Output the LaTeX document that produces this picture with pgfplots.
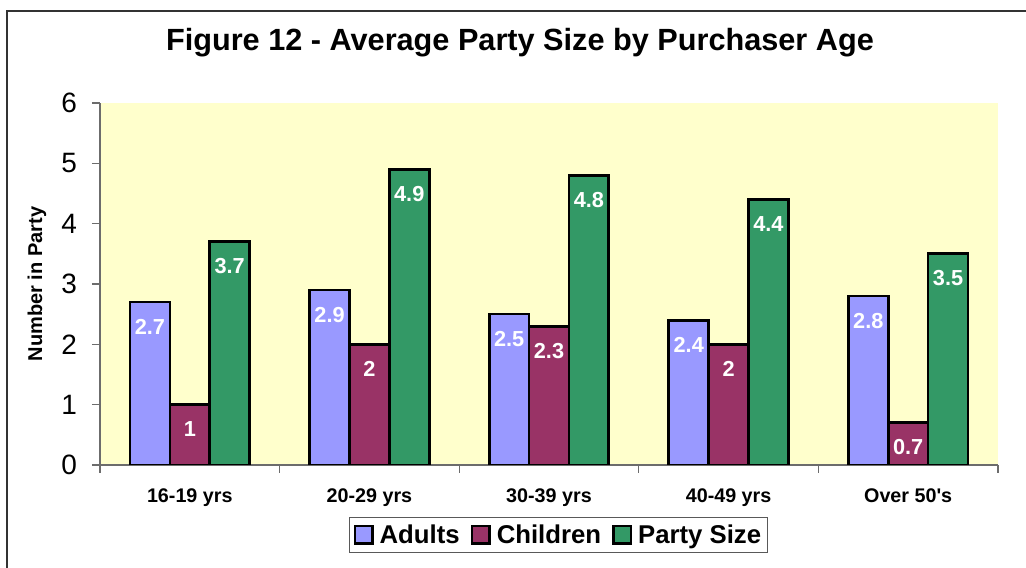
\documentclass[border=0pt]{standalone}
\usepackage{pgfplots}
\pgfplotsset{compat=1.18}
\usepackage{fontspec}
\setmainfont{Liberation Sans}
\definecolor{adults}{HTML}{9999FF}
\definecolor{children}{HTML}{993366}
\definecolor{party}{HTML}{339966}
\definecolor{plotbg}{HTML}{FFFFCC}
\begin{document}
\begin{tikzpicture}
\begin{axis}[
  at={(75pt,77.25pt)}, anchor=south west,
  scale only axis, width=673.5pt, height=271.5pt,
  ybar=0pt, bar width=29.9pt,
  xmin=-0.5, xmax=4.5, ymin=0, ymax=6,
  axis background/.style={fill=plotbg},
  axis x line*=bottom, axis y line*=left,
  axis line style={draw=gray!85!black, line width=0.8pt, -},
  tick align=outside, major tick length=6pt,
  every tick/.style={draw=gray!85!black, line width=0.8pt},
  xtick={-0.5,0.5,1.5,2.5,3.5,4.5},
  xticklabels={},
  extra x ticks={0,1,2,3,4},
  extra x tick labels={16-19 yrs,20-29 yrs,30-39 yrs,40-49 yrs,Over 50\textquotesingle s},
  extra x tick style={major tick length=0pt,
    xticklabel style={anchor=base, yshift=-27.75pt, font=\bfseries\fontsize{14.8}{16}\selectfont}},
  ytick={0,1,2,3,4,5,6},
  yticklabel={\fontsize{21}{22}\selectfont\pgfmathprintnumber{\tick}},
  y tick label style={anchor=east, inner sep=0pt, xshift=-11pt},
  /pgf/number format/assume math mode=true,
  title={Figure 12 - Average Party Size by Purchaser Age},
  title style={at={(axis description cs:0.4677,1)}, anchor=base, yshift=33pt, inner sep=0pt,
    font=\bfseries\fontsize{23}{26}\selectfont},
  ylabel={Number in Party},
  ylabel style={at={(axis description cs:-0.0702,0.5)}, anchor=center, inner sep=0pt,
    font=\bfseries\fontsize{15}{16}\selectfont},
  nodes near coords,
  every node near coord/.append style={font=\bfseries\fontsize{16.3}{17}\selectfont, text=white,
    anchor=north, inner sep=0pt, yshift=-11.6pt},
  legend columns=3,
  legend style={at={(axis description cs:0.511,-0.193)}, anchor=center,
    draw=gray!70!black, line width=0.8pt, inner xsep=3pt, inner ysep=3.5pt,
    font=\bfseries\fontsize{19.3}{21}\selectfont,
    nodes={inner xsep=2pt},
    /tikz/every odd column/.style={column sep=2.5pt},
    /tikz/every even column/.style={column sep=6.5pt}},
  legend image code/.code={\draw[#1, line width=1.8pt] (0pt,-6.5pt) rectangle (13pt,6.5pt);},
]
\addplot[fill=adults, draw=black, line width=2pt] coordinates {(0,2.7) (1,2.9) (2,2.5) (3,2.4) (4,2.8)};
\addplot[fill=children, draw=black, line width=2pt] coordinates {(0,1) (1,2) (2,2.3) (3,2) (4,0.7)};
\addplot[fill=party, draw=black, line width=2pt] coordinates {(0,3.7) (1,4.9) (2,4.8) (3,4.4) (4,3.5)};
\legend{Adults,Children,Party Size}
\end{axis}
\draw[draw=gray!40!black, line width=1.5pt] (5.25pt,-10pt) -- (5.25pt,417.75pt) -- (790pt,417.75pt);
\pgfresetboundingbox
\useasboundingbox (0pt,0pt) rectangle (769.5pt,426pt);
\end{tikzpicture}
\end{document}
